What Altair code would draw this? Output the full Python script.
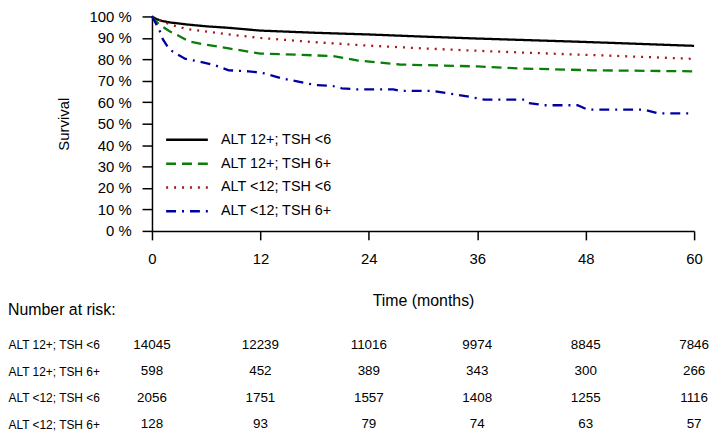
import altair as alt
import pandas as pd

FONT = "Liberation Sans"

groups = ["ALT 12+; TSH <6", "ALT 12+; TSH 6+", "ALT <12; TSH <6", "ALT <12; TSH 6+"]
colors = ["#000000", "#0a7d0a", "#a81818", "#0000a0"]
dashes = [[1, 0], [10, 6], [2, 6], [10, 6, 2, 6]]

# Survival curves (months, %)
t_a = [0, 0.5, 1, 2, 4, 6, 8.5, 12, 18, 24, 30, 36, 42, 48, 54, 60]
s_a = [100, 98.8, 98.0, 97.2, 96.2, 95.4, 94.7, 93.4, 92.4, 91.6, 90.6, 89.7, 88.9, 88.1, 87.2, 86.3]

t_b = [0, 0.3, 0.8, 1.9, 3, 4.1, 6.3, 8.5, 12, 16, 20, 22.7, 27.4, 36, 41, 48.7, 60]
s_b = [100, 98.5, 96.2, 93.2, 90.9, 88.3, 86.6, 85.1, 82.7, 82.2, 81.5, 79.5, 77.6, 76.7, 75.7, 74.9, 74.4]

t_c = [0, 0.8, 2, 4, 8.5, 12, 18, 24, 30, 36, 42, 48, 54, 60]
s_c = [100, 98.5, 96.2, 94.0, 91.6, 90.0, 88.0, 86.4, 85.1, 84.0, 83.0, 82.1, 81.2, 80.2]

t_d = [0, 0.1, 0.8, 1.2, 1.9, 2.6, 3.7, 5.2, 7, 8.5, 10.7, 12.0, 12.5, 14.4, 16.2, 18.1, 19.9, 21,
       22.7, 26.7, 27.4, 31, 32.7, 34.9, 36.8, 41.2, 41.6, 43.4, 47.1, 48.2, 54.4, 55.5, 56, 60]
s_d = [100, 99.3, 93.9, 89.4, 84.8, 82.8, 80.2, 79.0, 77.2, 74.9, 74.4, 73.8, 73.4, 71.1, 69.6, 68.0, 67.7, 66.5,
       66.0, 66.0, 65.3, 65.3, 64.2, 62.7, 61.2, 61.2, 59.7, 58.6, 58.6, 56.6, 56.6, 55.4, 54.8, 54.8]

# Number at risk
risk_times = [0, 12, 24, 36, 48, 60]
risk_a = [14045, 12239, 11016, 9974, 8845, 7846]
risk_b = [598, 452, 389, 343, 300, 266]
risk_c = [2056, 1751, 1557, 1408, 1255, 1116]
risk_d = [128, 93, 79, 74, 63, 57]

rows = []
for g, ts, ss in zip(groups, [t_a, t_b, t_c, t_d], [s_a, s_b, s_c, s_d]):
    for i, (t, s) in enumerate(zip(ts, ss)):
        rows.append({"group": g, "time": t, "surv": s, "idx": i})
curve_df = pd.DataFrame(rows)

rrows = []
for g, ns in zip(groups, [risk_a, risk_b, risk_c, risk_d]):
    for t, n in zip(risk_times, ns):
        rrows.append({"group": g, "time": t, "n": n})
risk_df = pd.DataFrame(rrows)

legend = alt.Legend(
    title=None, orient="none", legendX=28, legendY=117, padding=0,
    symbolType="M-4.2,0H4.2", symbolSize=100, symbolStrokeWidth=2.5,
    labelFont=FONT, labelFontSize=14.5, labelColor="black", labelOffset=27,
    rowPadding=9,
)

xscale = alt.Scale(domain=[0, 60], nice=False)

top = alt.Chart(curve_df).mark_line(strokeWidth=2.3, strokeCap="butt").encode(
    x=alt.X("time:Q", scale=xscale,
            axis=alt.Axis(values=[0, 12, 24, 36, 48, 60], title="Time (months)",
                          titleFontSize=16, titleFontWeight="normal", titlePadding=26,
                          labelFontSize=15, tickSize=9, labelPadding=12, labelFlush=False)),
    y=alt.Y("surv:Q", scale=alt.Scale(domain=[0, 100], nice=False),
            axis=alt.Axis(values=list(range(0, 101, 10)), labelExpr="datum.value + ' %'",
                          title="Survival", titleFontSize=15, titleFontWeight="normal",
                          titlePadding=18, labelFontSize=15, tickSize=10, labelPadding=11)),
    color=alt.Color("group:N", scale=alt.Scale(domain=groups, range=colors), legend=legend),
    strokeDash=alt.StrokeDash("group:N", scale=alt.Scale(domain=groups, range=dashes), legend=legend),
    order="idx:Q",
).properties(width=546, height=216)

table = alt.Chart(risk_df).mark_text(font=FONT, fontSize=13.5, color="black").encode(
    x=alt.X("time:Q", scale=xscale, axis=None),
    y=alt.Y("group:N", scale=alt.Scale(domain=groups, type="point", padding=0),
            axis=alt.Axis(title=None, domain=False, ticks=False, tickSize=0, labelAlign="left",
                          labelPadding=145, labelFontSize=12, labelFont=FONT, labelColor="black")),
    text=alt.Text("n:Q", format="d"),
).properties(
    width=546, height=80,
    title=alt.TitleParams("Number at risk:", anchor="start", frame="bounds", fontSize=16,
                          fontWeight="normal", font=FONT, color="black", offset=20),
)

chart = alt.vconcat(top, table, spacing=114.5, bounds="flush").properties(
    padding={"left": 0, "top": 0, "right": 0, "bottom": 0}
).configure_view(stroke=None).configure_axis(
    grid=False, domainColor="black", tickColor="black", labelColor="black", titleColor="black",
    labelFont=FONT, titleFont=FONT, domainWidth=1.5, tickWidth=1.5,
)

chart.save("out.html", embed_options={"renderer": "svg", "actions": False})
